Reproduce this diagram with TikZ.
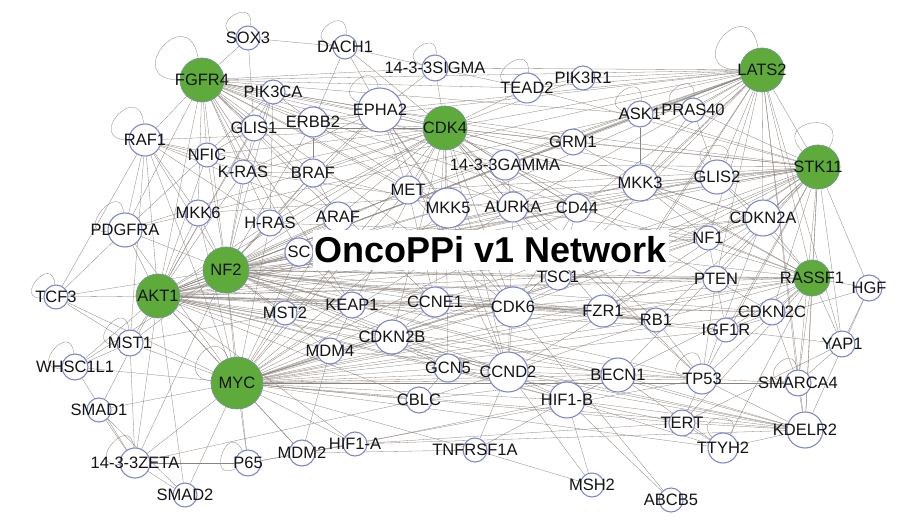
\documentclass[tikz,border=0pt]{standalone}
\usepackage{fontspec}
\setmainfont{Liberation Sans}
\usetikzlibrary{backgrounds}

\definecolor{genering}{RGB}{128,136,204}
\definecolor{hubgreen}{RGB}{94,170,58}
\definecolor{linkgray}{RGB}{138,130,124}

\tikzstyle{gene}=[circle,draw=genering,fill=white,line width=1.1pt,inner sep=0pt]
\tikzstyle{hub}=[circle,draw=genering!60!hubgreen,fill=hubgreen,line width=0.7pt,inner sep=0pt]
\tikzstyle{tag}=[font=\fontsize{16.5}{18}\selectfont,text=black!92,inner sep=0pt]
\tikzstyle{link}=[draw=linkgray,line width=0.3pt]
\tikzstyle{titlebox}=[fill=white,minimum width=356pt,minimum height=40pt,inner sep=0pt,font=\fontsize{36}{40}\selectfont\bfseries]

\begin{document}
\begin{tikzpicture}[x=1pt,y=-1pt]
\useasboundingbox (0,0) rectangle (898,529);

% genes
\foreach \pos/\name/\d/\txt in {
 {(248,38)/sox3/24/SOX3}, {(345,47)/dach1/24/DACH1}, {(435,68)/sigma/26/14-3-3SIGMA},
 {(273,92)/pik3ca/24/PIK3CA}, {(380,110)/epha2/44/EPHA2}, {(313,122)/erbb2/30/ERBB2},
 {(254,128)/glis1/26/GLIS1}, {(145,140)/raf1/32/RAF1}, {(207,155)/nfic/24/NFIC},
 {(243,172)/kras/24/K-RAS}, {(313,173)/braf/28/BRAF}, {(527,88)/tead2/30/TEAD2},
 {(583,78)/pik3r1/24/PIK3R1}, {(640,114)/ask1/26/ASK1}, {(693,110)/pras40/24/PRAS40},
 {(573,142)/grm1/26/GRM1}, {(505,165)/gamma/30/14-3-3GAMMA}, {(640,183)/mkk3/36/MKK3},
 {(717,177)/glis2/34/GLIS2}, {(577,208)/cd44/28/CD44}, {(513,207)/aurka/30/AURKA},
 {(448,208)/mkk5/40/MKK5}, {(408,190)/met/28/MET}, {(338,217)/araf/30/ARAF},
 {(270,223)/hras/26/H-RAS}, {(198,213)/mkk6/26/MKK6}, {(125,230)/pdgfra/34/PDGFRA},
 {(56,297)/tcf3/24/TCF3}, {(299,252)/sc/28/SC}, {(285,313)/mst2/24/MST2},
 {(352,305)/keap1/26/KEAP1}, {(435,302)/ccne1/30/CCNE1}, {(513,307)/cdk6/40/CDK6},
 {(558,277)/tsc1/26/TSC1}, {(603,311)/fzr1/32/FZR1}, {(656,320)/rb1/24/RB1},
 {(716,279)/pten/26/PTEN}, {(708,238)/nf1/24/NF1}, {(641,258)/hidden/30/},
 {(763,218)/cdkn2a/36/CDKN2A}, {(869,288)/hgf/26/HGF}, {(772,312)/cdkn2c/26/CDKN2C},
 {(726,330)/igf1r/24/IGF1R}, {(842,344)/yap1/26/YAP1}, {(130,343)/mst1/26/MST1},
 {(75,367)/whsc/26/WHSC1L1}, {(99,410)/smad1/24/SMAD1}, {(135,463)/zeta/30/14-3-3ZETA},
 {(185,495)/smad2/24/SMAD2}, {(248,463)/p65/26/P65}, {(302,453)/mdm2/26/MDM2},
 {(355,444)/hif1a/24/HIF1-A}, {(330,351)/mdm4/26/MDM4}, {(392,337)/cdkn2b/34/CDKN2B},
 {(448,368)/gcn5/28/GCN5}, {(508,372)/ccnd2/40/CCND2}, {(419,400)/cblc/26/CBLC},
 {(567,400)/hif1b/36/HIF1-B}, {(618,375)/becn1/34/BECN1}, {(702,379)/tp53/30/TP53},
 {(798,383)/smarca4/26/SMARCA4}, {(805,430)/kdelr2/36/KDELR2}, {(682,423)/tert/26/TERT},
 {(723,448)/ttyh2/30/TTYH2}, {(475,450)/tnfrsf1a/24/TNFRSF1A}, {(592,485)/msh2/24/MSH2},
 {(671,500)/abcb5/24/ABCB5}}
{
\node[gene,minimum size=\d pt] (\name) at \pos {};
\node[tag] at (\name) {\txt};
}

% hubs
\foreach \pos/\name/\d/\txt in {
 {(202,80)/fgfr4/44/FGFR4}, {(445,128)/cdk4/44/CDK4}, {(762,70)/lats2/44/LATS2},
 {(818,167)/stk11/44/STK11}, {(226,270)/nf2/46/NF2}, {(158,296)/akt1/44/AKT1},
 {(237,383)/myc/52/MYC}, {(812,278)/rassf1/36/RASSF1}}
{
\node[hub,minimum size=\d pt] (\name) at \pos {};
\node[tag] at (\name) {\txt};
}

\begin{pgfonlayer}{background}
\fill[white] (0,0) rectangle (898,529);
% hub links
\foreach \h/\others in {
 fgfr4/{sox3,pik3ca,glis1,raf1,nfic,kras,erbb2,epha2,braf,mkk6,hras,araf,pdgfra,cdk4,sigma,tead2,met,mkk5,aurka,gamma,grm1,cd44,mkk3,ask1,nf2,akt1,ccne1,cdk6,keap1,sc,lats2},
 cdk4/{epha2,erbb2,braf,met,mkk5,aurka,gamma,grm1,tead2,pik3r1,sigma,dach1,ccnd2,cdk6,ccne1,cdkn2b,cdkn2a,cdkn2c,rb1,tp53,myc,akt1,nf2,mdm4,gcn5,fzr1,tsc1,glis2,mkk3,cd44,raf1,araf,hras,kras,pik3ca,glis1,nfic,pdgfra,stk11,lats2},
 lats2/{sigma,tead2,pik3r1,ask1,pras40,epha2,grm1,mkk3,glis2,stk11,cd44,gamma,rassf1,nf1,cdkn2a,pten,aurka,mkk5,met,erbb2,braf,tsc1,fzr1,hidden,cdk6,yap1,kdelr2,smarca4,nf2,akt1,araf},
 stk11/{glis2,mkk3,cd44,aurka,mkk5,cdkn2a,nf1,pten,rassf1,hgf,yap1,kdelr2,smarca4,tp53,ask1,pras40,grm1,gamma,met,epha2,hidden,rb1,igf1r,cdkn2c,becn1,fzr1,tsc1,nf2,akt1,cdk6,ccne1,tead2},
 rassf1/{hgf,yap1,kdelr2,smarca4,cdkn2c,pten,igf1r,mkk3,rb1,fzr1,tp53,nf1,cdkn2a,akt1,nf2,myc,glis2,cd44,becn1,tert,ttyh2,hidden,tsc1,cdk6,gamma,grm1},
 nf2/{keap1,ccne1,cdk6,mst2,sc,hras,araf,mkk6,pdgfra,akt1,myc,raf1,kras,nfic,mst1,epha2,cd44,tsc1,fzr1,pten,nf1,kdelr2,met,mkk5,aurka,braf,glis1,erbb2,pik3ca,cdkn2b,mdm4,ccnd2,gcn5,becn1,hif1b,tp53,mkk3,glis2,hidden,cdkn2a,rb1,igf1r,cdkn2c,whsc,tcf3,p65,zeta},
 akt1/{tcf3,pdgfra,myc,mst1,raf1,mkk6,pik3ca,glis1,hras,kras,mst2,keap1,ccne1,cdk6,mdm4,cdkn2b,gcn5,ccnd2,tsc1,fzr1,pten,rb1,becn1,tp53,hif1b,kdelr2,cd44,cdkn2a,nfic,araf,sc,met,mkk5,aurka,whsc,smad1,zeta,smad2,mdm2,hif1a,cblc,igf1r,cdkn2c,hidden,nf1,mkk3,glis2,ask1,gamma},
 myc/{mdm4,cdkn2b,gcn5,ccnd2,cblc,hif1b,becn1,tp53,kdelr2,hif1a,mdm2,p65,smad2,zeta,smad1,whsc,mst1,mst2,keap1,ccne1,cdk6,fzr1,rb1,tert,ttyh2,tnfrsf1a,smarca4,igf1r,cdkn2c,pten,tsc1,hidden,nf1,cdkn2a,cd44,aurka,mkk5,met,araf,hras,sc,pdgfra,mkk6,tcf3,raf1}}
 \foreach \o in \others
 \draw[link] (\h) -- (\o);
% other links
\foreach \source/\dest in {sox3/dach1, sox3/glis1, dach1/sigma, dach1/epha2, dach1/erbb2, sigma/epha2, sigma/tead2,
 tead2/pik3r1, epha2/erbb2, epha2/braf, epha2/met, epha2/mkk5, epha2/cdk6, epha2/ccnd2, epha2/kras, erbb2/pik3ca,
 erbb2/braf, erbb2/mkk5, raf1/braf, raf1/araf, raf1/kras, raf1/hras, raf1/pdgfra, raf1/nfic, raf1/tcf3, raf1/mkk6,
 raf1/mst1, braf/kras, braf/hras, braf/araf, braf/mkk5, kras/pik3ca, hras/pik3ca, nfic/glis1, mkk6/mkk3, mkk3/ask1,
 mkk3/pras40, ask1/pras40, ask1/mkk6, grm1/gamma, gamma/cd44, gamma/aurka, aurka/tp53, aurka/ccnd2, cd44/cdk6,
 met/ccne1, met/cdk6, mkk5/ccnd2, cdk6/ccnd2, cdk6/cdkn2a, cdk6/cdkn2b, cdk6/cdkn2c, cdk6/rb1, ccnd2/cdkn2b,
 ccnd2/rb1, ccnd2/cdkn2a, ccne1/cdkn2b, ccne1/fzr1, ccne1/rb1, fzr1/rb1, fzr1/cdk6, tsc1/pten, tsc1/cd44,
 pten/igf1r, pten/nf1, pten/tp53, rb1/tp53, igf1r/yap1, cdkn2c/igf1r, cdkn2a/tp53, cdkn2a/mkk3, cdkn2a/glis2,
 glis2/pras40, glis2/mkk3, nf1/hras, nf1/kras, nf1/mkk3, hgf/yap1, hgf/igf1r, hgf/kdelr2, yap1/smarca4, yap1/tert,
 smarca4/kdelr2, smarca4/tp53, smarca4/cdkn2c, kdelr2/ttyh2, kdelr2/tert, kdelr2/hif1b, kdelr2/becn1, kdelr2/tp53,
 kdelr2/ccnd2, kdelr2/gcn5, kdelr2/hif1a, tert/ttyh2, tert/tp53, tert/hif1b, ttyh2/becn1, ttyh2/hif1b, becn1/hif1b,
 becn1/ccnd2, becn1/cblc, becn1/tp53, hif1b/abcb5, hif1b/msh2, hif1b/ccnd2, hif1b/gcn5, hif1b/tnfrsf1a,
 tnfrsf1a/msh2, tnfrsf1a/ccnd2, tnfrsf1a/mdm2, abcb5/cdk6, msh2/ccnd2, cblc/ccnd2, cblc/gcn5, gcn5/cdkn2b,
 gcn5/ccnd2, mdm4/mdm2, mdm4/tp53, mdm2/tp53, mdm2/p65, mdm2/hif1a, hif1a/hif1b, hif1a/tert, p65/hif1a,
 p65/zeta, zeta/smad1, zeta/smad2, zeta/mst1, zeta/whsc, zeta/cblc, smad1/smad2, whsc/mst1, mst1/mst2, mst1/tcf3,
 mst2/keap1, keap1/ccne1, keap1/cdk6, sc/araf, sc/keap1, pdgfra/pik3ca, pdgfra/mkk6, pdgfra/tcf3}
 \draw[link] (\source) -- (\dest);
% self links (angles negated because the y axis points down)
\foreach \n/\o/\i/\m in {sox3/80/165/32, dach1/85/170/34, sigma/85/165/28, fgfr4/100/180/60, raf1/95/180/45,
 epha2/95/160/30, tead2/85/170/34, ask1/85/170/34, pras40/85/170/34, lats2/100/180/60, stk11/60/135/45,
 glis2/60/135/30, pdgfra/95/185/34, tcf3/95/185/32, mst1/95/185/34, whsc/95/185/34, zeta/95/185/36,
 p65/115/205/34, myc/110/175/38, ttyh2/60/135/30, tp53/95/175/30, smarca4/95/175/30}
 \draw[link] (\n.\o) .. controls +(-\o:\m) and +(-\i:\m) .. (\n.\i);
\end{pgfonlayer}

\node[titlebox] (title) at (490.5,250) {OncoPPi v1 Network};
\end{tikzpicture}
\end{document}
